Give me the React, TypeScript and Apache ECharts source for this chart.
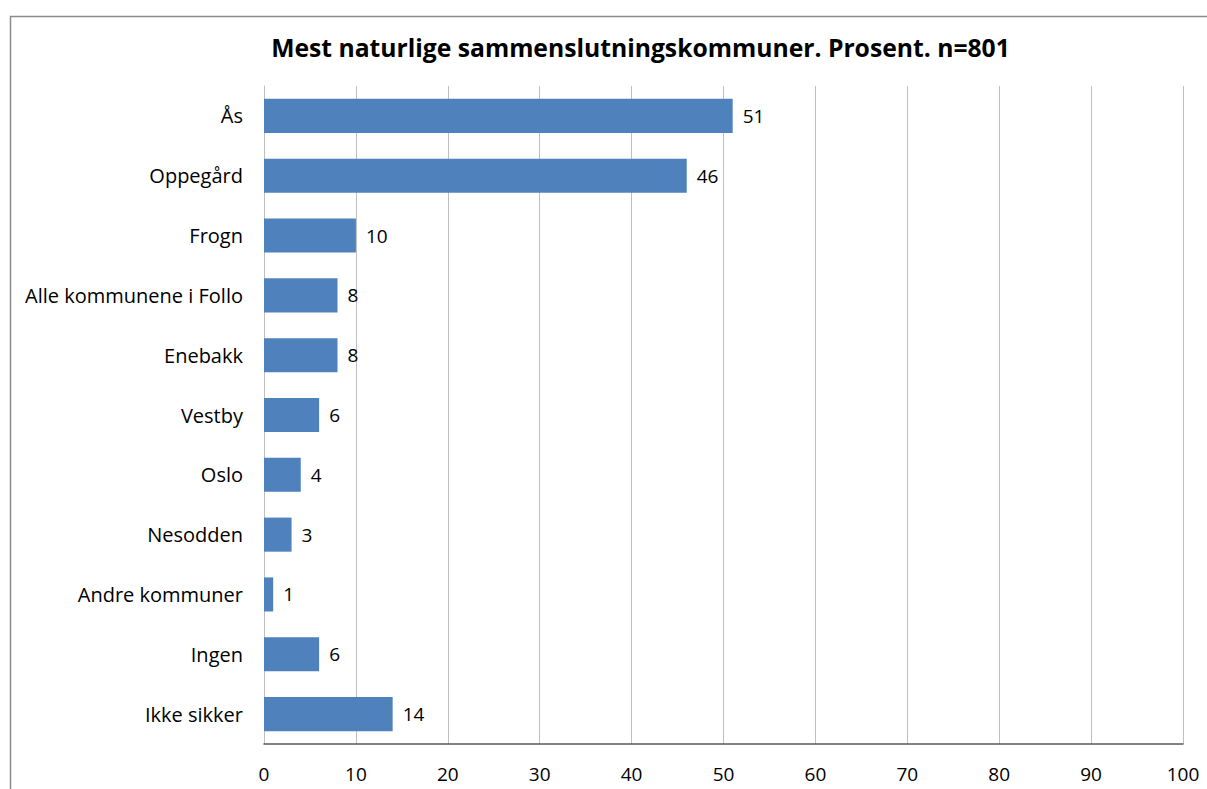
import React, { useEffect, useRef } from "react";
import * as echarts from "echarts";

const categories = [
  "Ås",
  "Oppegård",
  "Frogn",
  "Alle kommunene i Follo",
  "Enebakk",
  "Vestby",
  "Oslo",
  "Nesodden",
  "Andre kommuner",
  "Ingen",
  "Ikke sikker",
];
const values = [51, 46, 10, 8, 8, 6, 4, 3, 1, 6, 14];
const titleText = "Mest naturlige sammenslutningskommuner. Prosent. n=801";

export default function App() {
  const ref = useRef<HTMLDivElement>(null);
  useEffect(() => {
    if (!ref.current) return;
    const chart = echarts.init(ref.current, null, { renderer: "svg" });
    const font = "'Open Sans', sans-serif";
    chart.setOption({
      animation: false,
      backgroundColor: "#ffffff",
      title: {
        text: titleText,
        left: 635.5,
        textAlign: "center",
        top: 30,
        textStyle: {
          fontFamily: font,
          fontSize: 24.7,
          fontWeight: "bold",
          color: "#000",
        },
      },
      graphic: [
        {
          type: "rect",
          shape: { x: 10.5, y: 16.5, width: 1300, height: 1000 },
          style: { fill: "none", stroke: "#8c8c8c", lineWidth: 1.5 },
          silent: true,
        },
      ],
      grid: { left: 264, right: 24, top: 86, bottom: 45, containLabel: false },
      xAxis: {
        type: "value",
        min: 0,
        max: 100,
        interval: 10,
        axisLine: { show: true, lineStyle: { color: "#595959", width: 1.5 } },
        axisTick: { show: false },
        splitLine: { show: true, lineStyle: { color: "#bfbfbf", width: 1 } },
        axisLabel: {
          margin: 20,
          fontFamily: font,
          fontSize: 19,
          color: "#000",
        },
      },
      yAxis: {
        type: "category",
        data: categories,
        inverse: true,
        axisLine: { show: true, lineStyle: { color: "#bfbfbf", width: 1 } },
        axisTick: { show: false },
        axisLabel: {
          margin: 21,
          fontFamily: font,
          fontSize: 20,
          color: "#000",
        },
      },
      series: [
        {
          type: "bar",
          data: values,
          barCategoryGap: "43%",
          itemStyle: { color: "#4f81bd" },
          label: {
            show: true,
            position: "right",
            distance: 10,
            fontFamily: font,
            fontSize: 19,
            color: "#000",
          },
        },
      ],
    });
    return () => chart.dispose();
  }, []);
  return (
    <div
      ref={ref}
      style={{ position: "fixed", left: 0, top: 0, width: 1207, height: 789 }}
    />
  );
}
